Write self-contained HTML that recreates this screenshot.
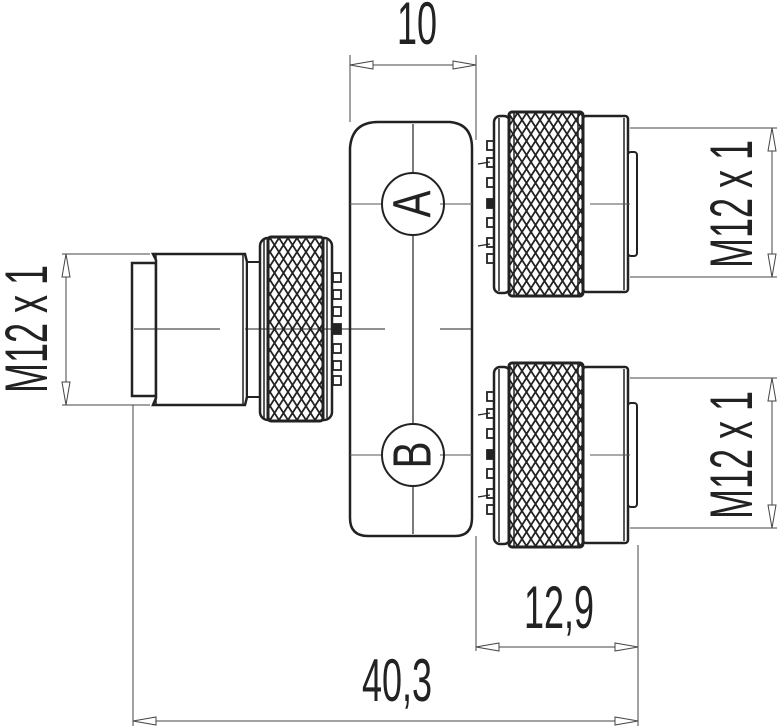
<!DOCTYPE html>
<html><head><meta charset="utf-8"><style>html,body{margin:0;padding:0;background:#fff}svg{display:block}</style></head>
<body>
<svg width="777" height="726" viewBox="0 0 777 726" xmlns="http://www.w3.org/2000/svg">
<defs>
<pattern id="kn" width="9" height="14" patternUnits="userSpaceOnUse">
<rect width="9" height="14" fill="#fff"/>
<path d="M0,0 L9,14 M9,0 L0,14 M-4.5,7 L4.5,21 M4.5,-7 L13.5,7 M4.5,7 L-4.5,21 M13.5,-7 L4.5,7 M4.5,-7 L-4.5,7 M13.5,7 L4.5,21" stroke="#222" stroke-width="1.8"/>
</pattern>
<g id="rc">
<g fill="#fff" stroke="#222" stroke-width="1.8">
<rect x="487" y="-63" width="7" height="9"/><rect x="487" y="-46" width="7" height="9"/>
<rect x="487" y="-26" width="7" height="9"/><rect x="487" y="-5" width="7" height="9" fill="#222"/>
<rect x="487" y="14" width="7" height="9"/><rect x="487" y="34" width="7" height="9"/><rect x="487" y="50" width="7" height="9"/>
</g>
<path d="M478,-40 L490,-42 M478,42 L490,40" stroke="#222" stroke-width="1.2"/>
<rect x="494" y="-88" width="16" height="177" rx="6" fill="#fff" stroke="#222" stroke-width="2.5"/>
<line x1="499" y1="-86" x2="499" y2="87" stroke="#222" stroke-width="1.5"/>
<rect x="583" y="-88" width="45" height="176" rx="3" fill="#fff" stroke="#222" stroke-width="2.5"/>
<line x1="624" y1="-86" x2="624" y2="86" stroke="#222" stroke-width="1.5"/>
<rect x="628" y="-52" width="9" height="104" rx="3" fill="#fff" stroke="#222" stroke-width="2"/>
<rect x="509" y="-92" width="74" height="184" rx="3" fill="url(#kn)" stroke="#222" stroke-width="3"/>
<line x1="514" y1="-91" x2="514" y2="91" stroke="#222" stroke-width="1.5"/>
<line x1="578" y1="-91" x2="578" y2="91" stroke="#222" stroke-width="1.5"/>
</g>
</defs>

<path d="M350,148 Q352,122 378,122 L450,122 Q472,124 472,148 L472,518 Q472,536 455,536 L368,536 Q350,536 350,518 Z" fill="#fff" stroke="#222" stroke-width="2.5"/>
<line x1="413" y1="124" x2="413" y2="172" stroke="#222" stroke-width="1.2"/>
<line x1="413" y1="236" x2="413" y2="423" stroke="#222" stroke-width="1.2"/>
<line x1="413" y1="487" x2="413" y2="534" stroke="#222" stroke-width="1.2"/>
<line x1="350" y1="204" x2="382" y2="204" stroke="#555" stroke-width="1"/>
<line x1="440" y1="204" x2="472" y2="204" stroke="#555" stroke-width="1"/>
<line x1="350" y1="455" x2="382" y2="455" stroke="#555" stroke-width="1"/>
<line x1="440" y1="455" x2="472" y2="455" stroke="#555" stroke-width="1"/>
<circle cx="413" cy="204" r="31" fill="none" stroke="#222" stroke-width="2"/>
<circle cx="413" cy="455" r="31" fill="none" stroke="#222" stroke-width="2"/>
<text transform="translate(413,204) rotate(-90) scale(0.75,1)" font-family="Liberation Sans, sans-serif" font-size="54" text-anchor="middle" dominant-baseline="central" fill="#222">A</text>
<text transform="translate(413,455) rotate(-90) scale(0.75,1)" font-family="Liberation Sans, sans-serif" font-size="54" text-anchor="middle" dominant-baseline="central" fill="#222">B</text>

<use href="#rc" transform="translate(0,204)"/>
<use href="#rc" transform="translate(0,455)"/>
<line x1="590" y1="204" x2="630" y2="204" stroke="#555" stroke-width="1"/>
<line x1="590" y1="455" x2="630" y2="455" stroke="#555" stroke-width="1"/>

<g fill="#fff" stroke="#222" stroke-width="1.8">
<rect x="333" y="273" width="8" height="9"/><rect x="333" y="290" width="8" height="9"/><rect x="333" y="307" width="8" height="9"/>
<rect x="333" y="324" width="8" height="10" fill="#222"/><rect x="333" y="344" width="8" height="9"/><rect x="333" y="361" width="8" height="9"/><rect x="333" y="376" width="8" height="9"/>
</g>
<rect x="132" y="263" width="24" height="133" fill="#fff" stroke="#222" stroke-width="2.5"/>
<path d="M156,260 L153,254 L245,254 L247,262 L247,397 L245,405 L153,405 L156,398 Z" fill="#fff" stroke="#222" stroke-width="2.5"/>
<line x1="156" y1="254" x2="156" y2="405" stroke="#222" stroke-width="1.5"/>
<line x1="243" y1="254" x2="243" y2="405" stroke="#222" stroke-width="1.5"/>
<rect x="247" y="262" width="14" height="135" fill="#fff" stroke="#222" stroke-width="2"/>
<rect x="260" y="238" width="72" height="182" rx="8" fill="#fff" stroke="#222" stroke-width="2.5"/>
<rect x="268" y="237" width="55" height="184" rx="3" fill="url(#kn)" stroke="#222" stroke-width="3"/>
<line x1="264" y1="240" x2="264" y2="418" stroke="#222" stroke-width="1.5"/>
<line x1="327" y1="240" x2="327" y2="418" stroke="#222" stroke-width="1.5"/>
<line x1="134" y1="329" x2="220" y2="329" stroke="#222" stroke-width="1"/>
<line x1="245" y1="329" x2="385" y2="329" stroke="#222" stroke-width="1"/>
<line x1="440" y1="329" x2="472" y2="329" stroke="#222" stroke-width="1"/>

<g stroke="#444" stroke-width="1" fill="#fff">
<line x1="350" y1="55" x2="350" y2="122"/><line x1="476" y1="55" x2="476" y2="140"/>
<line x1="350" y1="65" x2="476" y2="65"/>
<path d="M350,65 L373,61 L373,69 Z"/><path d="M476,65 L453,61 L453,69 Z"/>

<line x1="630" y1="128" x2="777" y2="128"/><line x1="630" y1="277" x2="777" y2="277"/>
<line x1="772" y1="128" x2="772" y2="277"/>
<path d="M772,128 L768,151 L776,151 Z"/><path d="M772,277 L768,254 L776,254 Z"/>
<line x1="630" y1="378" x2="777" y2="378"/><line x1="630" y1="528" x2="777" y2="528"/>
<line x1="772" y1="378" x2="772" y2="528"/>
<path d="M772,378 L768,401 L776,401 Z"/><path d="M772,528 L768,505 L776,505 Z"/>

<line x1="62" y1="254" x2="150" y2="254"/><line x1="62" y1="405" x2="150" y2="405"/>
<line x1="66" y1="254" x2="66" y2="405"/>
<path d="M66,254 L62,277 L70,277 Z"/><path d="M66,405 L62,382 L70,382 Z"/>

<line x1="476" y1="536" x2="476" y2="651"/><line x1="638" y1="545" x2="638" y2="726"/>
<line x1="476" y1="647" x2="638" y2="647"/>
<path d="M476,647 L499,643 L499,651 Z"/><path d="M638,647 L615,643 L615,651 Z"/>
<line x1="133" y1="405" x2="133" y2="726"/>
<line x1="133" y1="721" x2="638" y2="721"/>
<path d="M133,721 L156,717 L156,725 Z"/><path d="M638,721 L615,717 L615,725 Z"/>
</g>

<g font-family="Liberation Sans, sans-serif" font-size="60" fill="#222" text-anchor="middle">
<text transform="translate(417,44) scale(0.6,1)">10</text>
<text transform="translate(559,628) scale(0.6,1)">12,9</text>
<text transform="translate(397,701) scale(0.6,1)">40,3</text>
<text transform="translate(752,204) rotate(-90) scale(0.6,1)">M12 x 1</text>
<text transform="translate(752,455) rotate(-90) scale(0.6,1)">M12 x 1</text>
<text transform="translate(47,329) rotate(-90) scale(0.6,1)">M12 x 1</text>
</g>
</svg>
</body></html>
